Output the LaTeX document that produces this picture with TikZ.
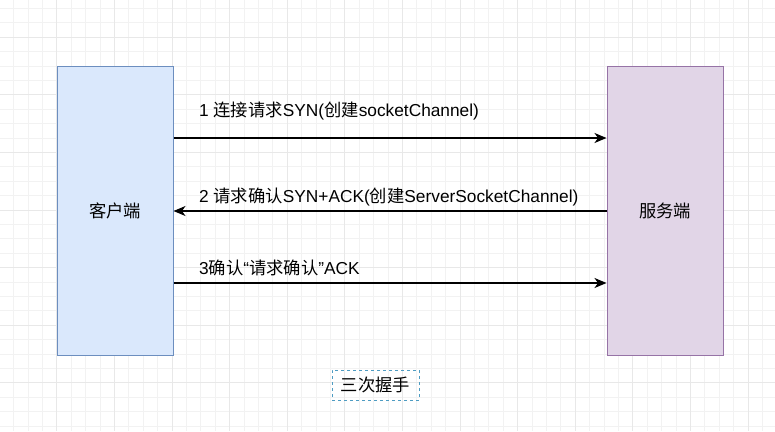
\documentclass[tikz,border=0pt]{standalone}
\usepackage{fontspec}
\setmainfont{Liberation Sans}
\newfontfamily\cjk{Noto Sans CJK SC}
\usetikzlibrary{arrows.meta}
\definecolor{clientfill}{HTML}{DAE8FC}
\definecolor{clientdraw}{HTML}{6C8EBF}
\definecolor{serverfill}{HTML}{E1D5E7}
\definecolor{serverdraw}{HTML}{9673A6}
\definecolor{gridminor}{HTML}{F2F2F2}
\definecolor{gridmajor}{HTML}{E8E8E8}
\definecolor{selblue}{HTML}{4E9CC2}
\tikzset{
  party/.style={draw, line width=1pt, minimum width=116pt, minimum height=289pt, inner sep=0pt, font=\fontsize{17.3}{20}\selectfont},
  client/.style={party, fill=clientfill, draw=clientdraw},
  server/.style={party, fill=serverfill, draw=serverdraw},
  msg/.style={line width=1.3pt, draw=black, -{Stealth[length=12pt,width=10pt,inset=3.5pt]}},
  msglabel/.style={anchor=west, inner sep=0pt, font=\fontsize{17.3}{20}\selectfont},
  caption/.style={draw=selblue, dashed, line width=0.7pt, minimum width=87pt, minimum height=30pt, inner sep=0pt, font=\fontsize{17.3}{20}\selectfont}
}
\begin{document}
\begin{tikzpicture}[x=1pt,y=-1pt]
\useasboundingbox (0,0) rectangle (775,431);
\fill[white] (0,0) rectangle (775,431);
% grid
\foreach \i in {0,...,54} {
  \draw[gridminor, line width=0.8pt] ({-0.9+14.4*\i},0) -- ({-0.9+14.4*\i},431);
}
\foreach \j in {0,...,30} {
  \draw[gridminor, line width=0.8pt] (0,{8.4+14.4*(\j-1)}) -- (775,{8.4+14.4*(\j-1)});
}
\foreach \i in {-1,...,13} {
  \draw[gridmajor, line width=0.8pt] ({56.7+57.6*\i},0) -- ({56.7+57.6*\i},431);
}
\foreach \j in {0,...,7} {
  \draw[gridmajor, line width=0.8pt] (0,{37.2+57.6*\j}) -- (775,{37.2+57.6*\j});
}
% parties
\node[client] (client) at (115,210.5) {\cjk 客户端};
\node[server] (server) at (665,210.5) {\cjk 服务端};
% coordinates on box edges
\coordinate (c1) at (client.east |- 0,138);
\coordinate (s1) at (server.west |- 0,138);
\coordinate (c2) at (client.east |- 0,211);
\coordinate (s2) at (server.west |- 0,211);
\coordinate (c3) at (client.east |- 0,283);
\coordinate (s3) at (server.west |- 0,283);
\draw[msg] (c1) -- (s1);
\draw[msg] (s2) -- (c2);
\draw[msg] (c3) -- (s3);
\node[msglabel] (l1) at (199,111) {1 {\cjk 连接请求}SYN({\cjk 创建}socketChannel)};
\node[msglabel] (l2) at (199,197) {2 {\cjk 请求确认}SYN+ACK({\cjk 创建}ServerSocketChannel)};
\node[msglabel] (l3) at (199,268) {3{\cjk 确认}“{\cjk 请求确认}”ACK};
% caption
\node[caption] (cap) at (375.5,385) {\cjk 三次握手};
\end{tikzpicture}
\end{document}
